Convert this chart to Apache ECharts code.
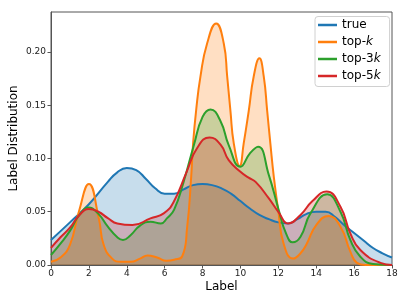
<!DOCTYPE html>
<html>
<head>
<meta charset="utf-8">
<script src="https://cdn.jsdelivr.net/npm/echarts@6/dist/echarts.min.js"></script>
<style>html,body{margin:0;padding:0;background:#fff}#c{width:407px;height:305px}</style>
</head>
<body>
<div id="c"></div>
<script>
// ---- data ----
const seriesNames = ['true', 'top-k', 'top-3k', 'top-5k'];
const xTicks = [0, 2, 4, 6, 8, 10, 12, 14, 16, 18];
const yTicks = [0, 0.05, 0.10, 0.15, 0.20];

const trueX = [0, 1, 2, 3, 3.5, 4, 4.5, 5, 5.5, 6, 6.5, 7, 7.5, 8, 8.5, 9, 9.5, 10, 10.5, 11, 11.5, 12, 12.5, 13, 13.5, 14, 14.5, 15, 15.5, 16, 16.5, 17, 17.5, 18];
const trueY = [0.0235, 0.040, 0.057, 0.078, 0.087, 0.091, 0.089, 0.081, 0.072, 0.067, 0.067, 0.071, 0.075, 0.076, 0.075, 0.072, 0.067, 0.060, 0.053, 0.047, 0.043, 0.040, 0.039, 0.043, 0.048, 0.050, 0.050, 0.045, 0.037, 0.030, 0.023, 0.016, 0.011, 0.007];

const topkX = [0, 0.5, 1, 1.47, 2, 2.52, 2.78, 3.23, 3.7, 4.2, 4.7, 5.1, 5.6, 6.1, 6.5, 6.92, 7.19, 7.4, 7.5, 7.66, 7.89, 8.24, 8.72, 9.12, 9.3, 9.47, 9.65, 9.96, 10.17, 10.44, 10.7, 11.0, 11.23, 11.41, 11.58, 11.76, 11.99, 12.28, 12.78, 13.17, 13.5, 14.0, 14.66, 15.28, 15.8, 16.15, 16.6, 17.2, 18];
const topkY = [0.003, 0.007, 0.019, 0.050, 0.076, 0.044, 0.019, 0.006, 0.003, 0.003, 0.006, 0.009, 0.007, 0.004, 0.005, 0.008, 0.036, 0.083, 0.114, 0.145, 0.177, 0.208, 0.2267, 0.208, 0.177, 0.145, 0.114, 0.093, 0.114, 0.145, 0.177, 0.194, 0.177, 0.145, 0.114, 0.083, 0.052, 0.020, 0.006, 0.011, 0.020, 0.0375, 0.046, 0.036, 0.0125, 0.002, 0.0, 0.0, 0.0];

const top3kX = [0, 0.5, 1, 1.5, 2, 2.5, 3, 3.5, 3.8, 4.2, 4.7, 5.25, 5.8, 6.13, 6.5, 7.0, 7.54, 8.0, 8.42, 8.95, 9.38, 10.0, 10.5, 10.93, 11.5, 12.02, 12.4, 12.76, 13.17, 13.7, 14.58, 15.28, 15.8, 16.33, 17.0, 18];
const top3kY = [0.0094, 0.020, 0.032, 0.047, 0.054, 0.048, 0.036, 0.026, 0.0235, 0.028, 0.037, 0.0406, 0.039, 0.044, 0.052, 0.078, 0.1125, 0.139, 0.146, 0.135, 0.1126, 0.0922, 0.1048, 0.111, 0.0844, 0.0516, 0.030, 0.0213, 0.0266, 0.0485, 0.0663, 0.050, 0.0235, 0.0078, 0.001, 0.0];

const top5kX = [0, 0.5, 1, 1.5, 2, 2.5, 3, 3.5, 4.3, 5.25, 5.95, 6.48, 7.16, 7.7, 8.37, 8.95, 9.38, 10.0, 10.43, 10.8, 11.5, 12.02, 12.52, 13.17, 13.8, 14.54, 15.28, 15.8, 16.33, 17.39, 18];
const top5kY = [0.016, 0.026, 0.035, 0.047, 0.0525, 0.050, 0.044, 0.039, 0.0375, 0.0438, 0.0485, 0.0594, 0.0875, 0.1094, 0.1198, 0.113, 0.0985, 0.0875, 0.082, 0.078, 0.0625, 0.0494, 0.039, 0.047, 0.060, 0.069, 0.0547, 0.0297, 0.014, 0.002, 0.0];

const colors = ['#1f77b4', '#ff7f0e', '#2ca02c', '#d62728'];
// ---------------------------------------

const allX = [trueX, topkX, top3kX, top5kX];
const allY = [trueY, topkY, top3kY, top5kY];
const pairs = allX.map((xs, i) => xs.map((x, j) => [x, allY[i][j]]));

const font = 'DejaVu Sans';
const SMOOTH = 0.5;
const series = [];
pairs.forEach((d, i) => {
  series.push({
    name: seriesNames[i] + '_fill', type: 'line', data: d, smooth: SMOOTH,
    showSymbol: false, symbol: 'none', silent: true,
    lineStyle: { width: 0, opacity: 0 },
    areaStyle: { color: colors[i], opacity: 0.25 },
    z: 1
  });
});
pairs.forEach((d, i) => {
  series.push({
    name: seriesNames[i], type: 'line', data: d, smooth: SMOOTH,
    showSymbol: false, symbol: 'none',
    lineStyle: { width: 2, color: colors[i] }, itemStyle: { color: colors[i] },
    z: 3
  });
});

const chart = echarts.init(document.getElementById('c'), null, { renderer: 'canvas' });
chart.setOption({
  animation: false,
  backgroundColor: '#ffffff',
  grid: { left: 51, right: 15, top: 12, bottom: 40, show: true, borderColor: '#555', borderWidth: 1,
    backgroundColor: 'transparent', containLabel: false, outerBoundsMode: 'none' },
  legend: {
    data: seriesNames.map((n, i) => ({ name: n, icon: 'rect', itemStyle: { color: colors[i] } })),
    orient: 'vertical', left: 315, top: 16.5,
    itemWidth: 19, itemHeight: 2.5, itemGap: 2,
    padding: [1, 9, 3, 3],
    borderColor: '#d0d0d0', borderWidth: 1, borderRadius: 3, backgroundColor: 'rgba(255,255,255,0.8)',
    selectedMode: false,
    formatter: function (n) {
      if (n === 'true') return 'true';
      return n.replace('k', '{i|k}');
    },
    textStyle: {
      fontFamily: font, fontSize: 12, color: '#000', lineHeight: 15,
      rich: { i: { fontFamily: font, fontSize: 12, fontStyle: 'italic', color: '#000', lineHeight: 15 } }
    }
  },
  xAxis: {
    type: 'value', min: 0, max: 18, interval: 2,
    name: 'Label', nameLocation: 'middle', nameGap: 16, nameMoveOverlap: false,
    nameTextStyle: { fontFamily: font, fontSize: 12, color: '#000' },
    axisLine: { show: true, lineStyle: { color: '#555', width: 1 } },
    axisTick: { show: true, length: 3.5, lineStyle: { color: '#555' }, customValues: xTicks },
    axisLabel: { fontFamily: font, fontSize: 9, color: '#222', margin: 4, customValues: xTicks },
    splitLine: { show: false }
  },
  yAxis: {
    type: 'value', min: 0, max: 0.2375,
    name: 'Label Distribution', nameLocation: 'middle', nameGap: 31, nameMoveOverlap: false,
    nameTextStyle: { fontFamily: font, fontSize: 12, color: '#000' },
    axisLine: { show: true, lineStyle: { color: '#555', width: 1 } },
    axisTick: { show: true, length: 3.5, lineStyle: { color: '#555' }, customValues: yTicks },
    axisLabel: { fontFamily: font, fontSize: 9, color: '#222', margin: 5, customValues: yTicks,
      formatter: v => v.toFixed(2) },
    splitLine: { show: false }
  },
  series: series
});
</script>
</body>
</html>
